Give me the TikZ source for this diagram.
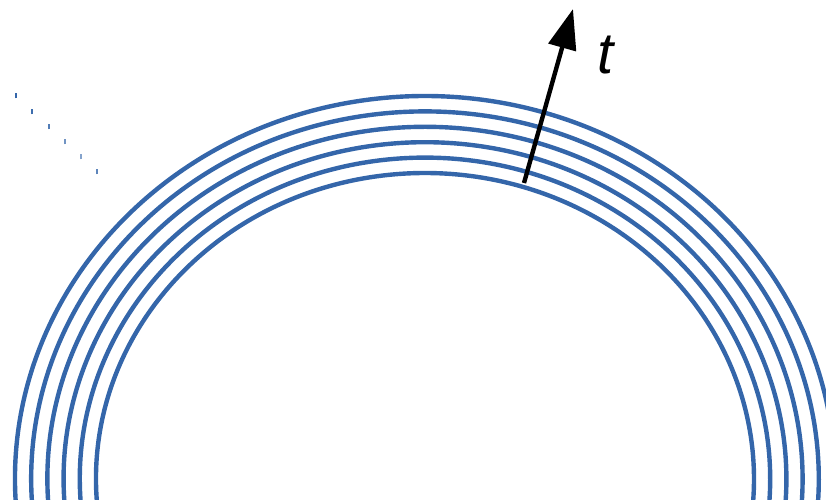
\documentclass[tikz,border=0pt]{standalone}
\usepackage{fontspec}
\setmainfont{Liberation Sans}
\usetikzlibrary{arrows.meta}
\definecolor{ringblue}{RGB}{52,102,170}
\definecolor{ink}{RGB}{0,0,0}

\begin{document}
\begin{tikzpicture}[
  x=0.5pt,y=0.5pt,
  ring/.style={draw=ringblue, line width=2.2pt},
  tick/.style={draw=ringblue, line width=0.6pt},
  growth/.style={-{Triangle[length=20pt,width=14pt]}, draw=ink,
                 line width=2.2pt}
]
\useasboundingbox (0,0) rectangle (826,499);
\clip (0,0) rectangle (826,499);

% Nested layers, one ellipse arc each.
\coordinate (centre) at (425,20);
\foreach \k in {0,...,5}
  \draw[ring] (centre) ++(186:{329+16.2*\k} and {306+15.4*\k})
    arc[start angle=186, end angle=-6,
        x radius={329+16.2*\k}, y radius={306+15.4*\k}];

% Faint marks left of the layers.
\foreach \x/\y/\o in {16/403/100, 32/387/95, 49/372/85, 65/357/70,
                      81/342/60, 97/327/80}
  \draw[tick, draw opacity=\o/100] (\x,\y-2.5) -- (\x,\y+2.5);

% Thickness direction.
\coordinate (base) at (524,316);
\coordinate (tip) at (573,490);
\draw[growth] (base) -- (tip);
\node[font=\fontsize{29}{30}\selectfont\itshape, text=ink] (tlabel)
  at (606,444) {t};

\end{tikzpicture}
\end{document}
